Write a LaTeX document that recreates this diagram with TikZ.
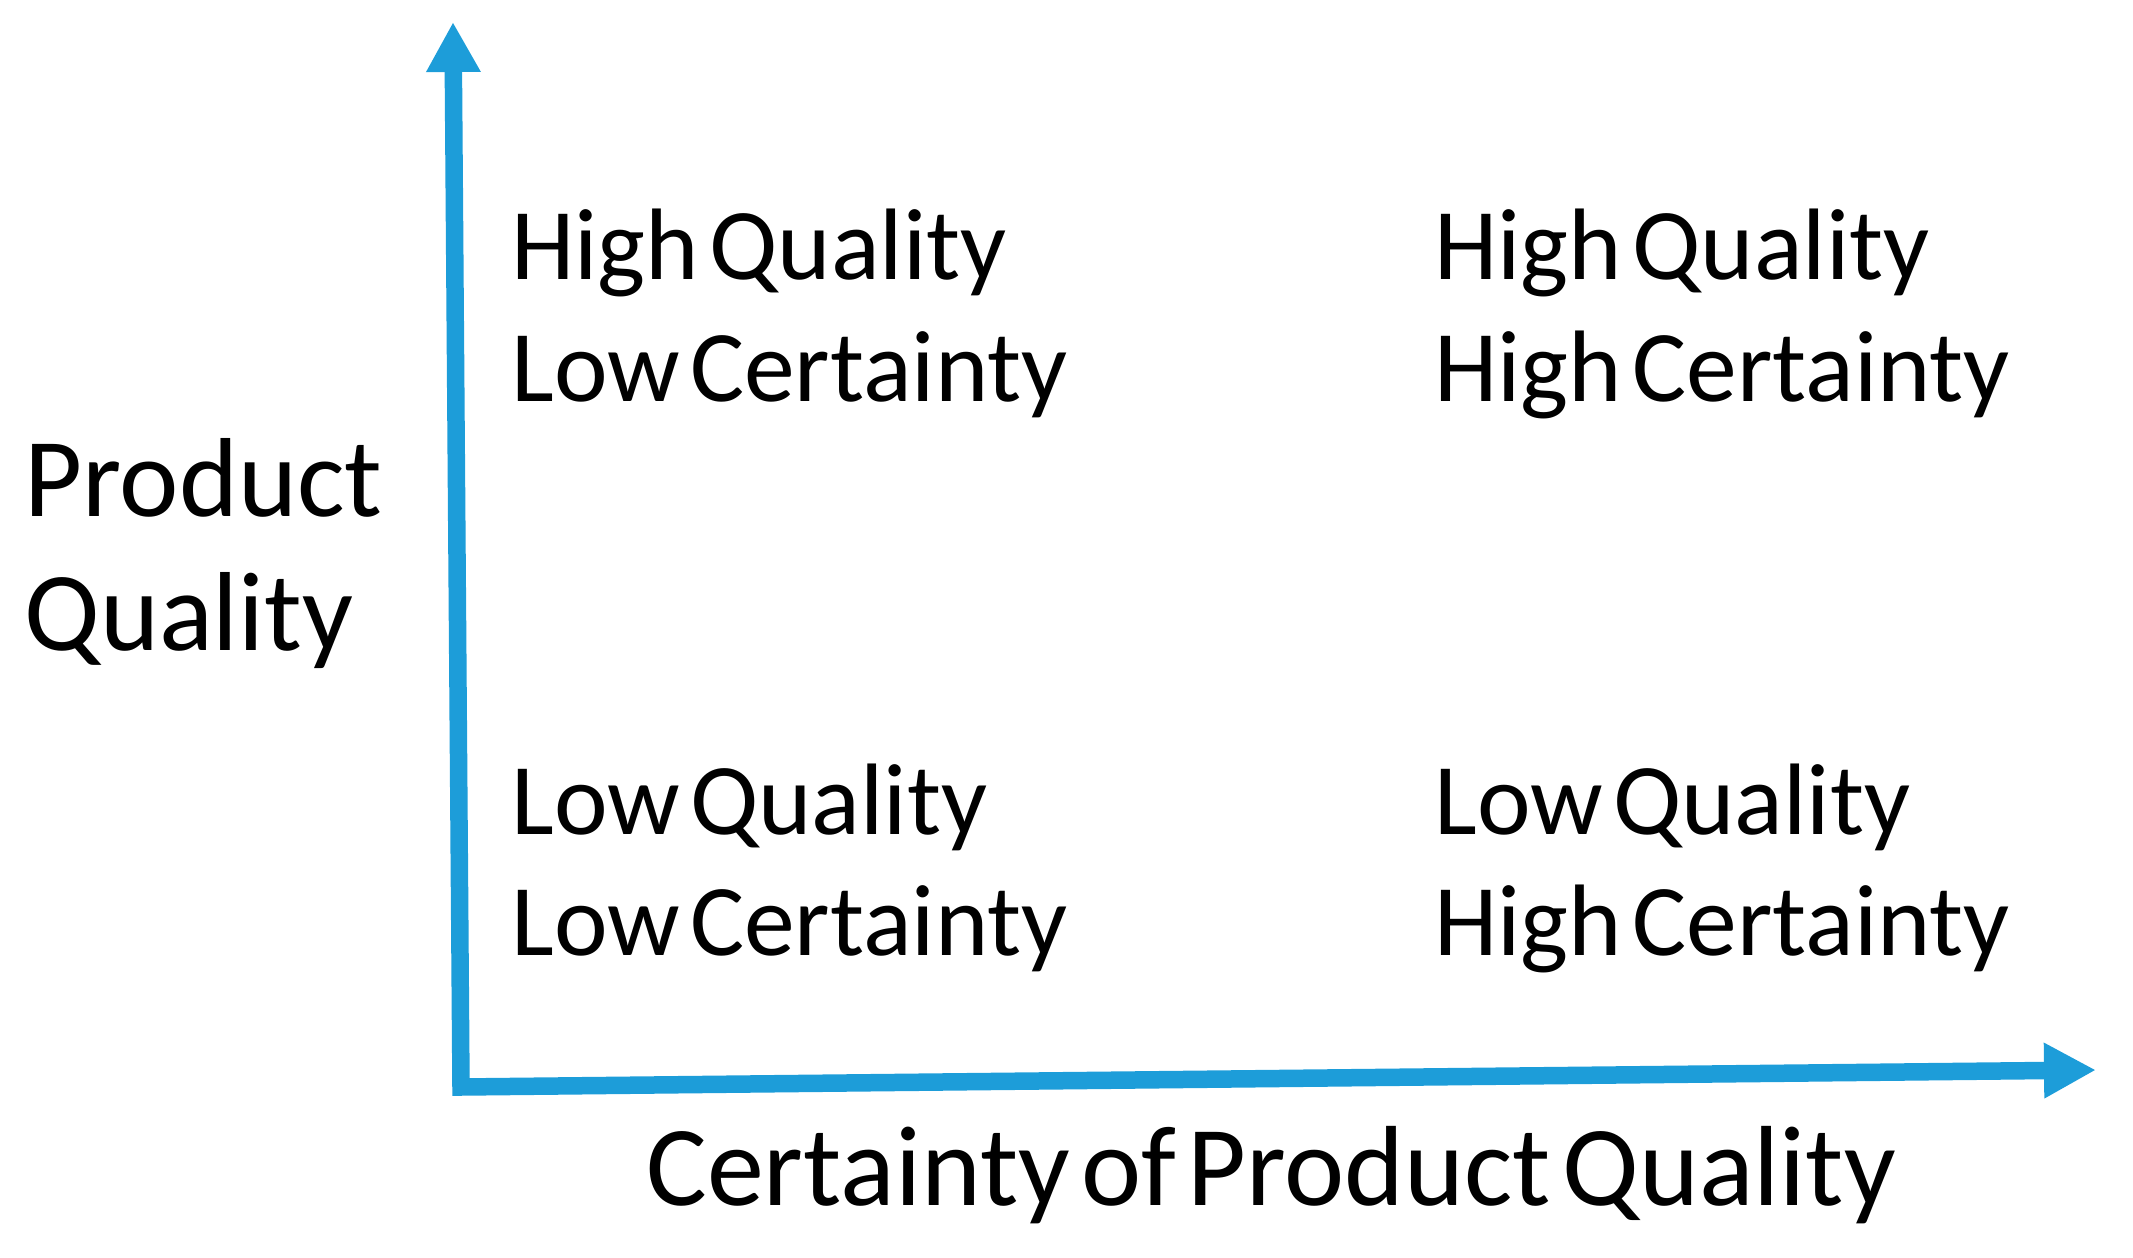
\documentclass[tikz,border=0pt]{standalone}
\usepackage{fontspec}
\setmainfont[WordSpace=0.45]{Carlito}
\usetikzlibrary{arrows.meta}
\definecolor{axisblue}{RGB}{29,157,217}
\begin{document}
\begin{tikzpicture}[x=0.5pt,y=-0.5pt,
  axis/.style={draw=axisblue, line width=8.75pt, line join=miter},
  quad/.style={inner sep=0pt, anchor=base west, font=\fontsize{50.8}{61}\selectfont},
  ylabel/.style={inner sep=0pt, anchor=base west, font=\fontsize{56.2}{67}\selectfont},
  xlabel/.style={inner sep=0pt, anchor=base west, font=\fontsize{57}{67}\selectfont}]
\useasboundingbox (0,0) rectangle (2133,1258);
\coordinate (corner) at (461,1087);
\coordinate (ytip) at (453,22);
\coordinate (xtip) at (2096,1070);
\draw[axis, {Triangle[length=25pt,width=25.5pt]}-{Triangle[length=26pt,width=26pt]}] (ytip) -- (corner) -- (xtip);
% quadrant labels
\node[quad] (hqlq) at (511,279) {High Quality};
\node[quad] (hqlc) at (511,401) {Low Certainty};
\node[quad] (hqhq) at (1434,279) {High Quality};
\node[quad] (hqhc) at (1434,401) {High Certainty};
\node[quad] (lqlq) at (511,834) {Low Quality};
\node[quad] (lqlc) at (511,955) {Low Certainty};
\node[quad] (lqhq) at (1434,834) {Low Quality};
\node[quad] (lqhc) at (1434,955) {High Certainty};
% axis labels
\node[ylabel] (ylab1) at (24,516) {Product};
\node[ylabel] (ylab2) at (24,650) {Quality};
\node[xlabel] (xlab) at (646,1205) {Certainty of Product Quality};
\end{tikzpicture}
\end{document}
